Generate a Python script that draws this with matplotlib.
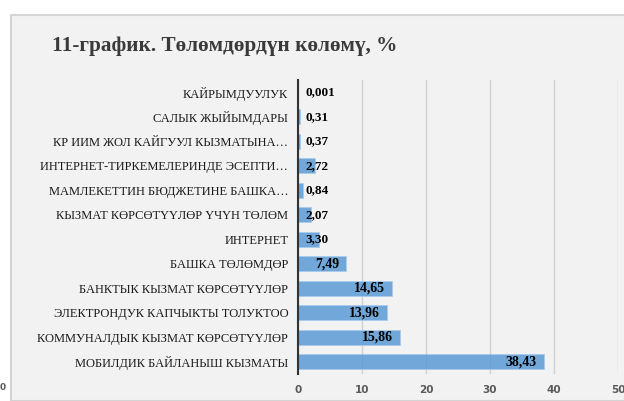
import matplotlib
matplotlib.use("Agg")
import matplotlib.pyplot as plt
from matplotlib.patches import Rectangle

categories = [
    "КАЙРЫМДУУЛУК",
    "САЛЫК ЖЫЙЫМДАРЫ",
    "КР ИИМ ЖОЛ КАЙГУУЛ КЫЗМАТЫНА…",
    "ИНТЕРНЕТ-ТИРКЕМЕЛЕРИНДЕ ЭСЕПТИ…",
    "МАМЛЕКЕТТИН БЮДЖЕТИНЕ БАШКА…",
    "КЫЗМАТ КӨРСӨТҮҮЛӨР ҮЧҮН ТӨЛӨМ",
    "ИНТЕРНЕТ",
    "БАШКА ТӨЛӨМДӨР",
    "БАНКТЫК КЫЗМАТ КӨРСӨТҮҮЛӨР",
    "ЭЛЕКТРОНДУК КАПЧЫКТЫ ТОЛУКТОО",
    "КОММУНАЛДЫК КЫЗМАТ КӨРСӨТҮҮЛӨР",
    "МОБИЛДИК БАЙЛАНЫШ КЫЗМАТЫ",
]
values = [0.001, 0.31, 0.37, 2.72, 0.84, 2.07, 3.30, 7.49, 14.65, 13.96, 15.86, 38.43]
value_labels = ["0,001", "0,31", "0,37", "2,72", "0,84", "2,07", "3,30", "7,49",
                "14,65", "13,96", "15,86", "38,43"]
xticks = [0, 10, 20, 30, 40, 50]

serif = "Liberation Serif"
W, H = 624, 401

fig = plt.figure(figsize=(6.24, 4.01), dpi=100, facecolor="white")

# grey chart panel with its border (chart sits inside a report page)
fig.patches.append(Rectangle((11 / W, 0), 1, 1 - 15 / H, transform=fig.transFigure,
                             facecolor="#F2F2F2", edgecolor="#D4D4D4", linewidth=1.5, zorder=-5))
# piece of the neighbouring chart's axis label at the far left
fig.text(0, 1 - 388 / H, "0", fontsize=6.5, color="#595959", fontweight="bold",
         ha="left", va="center")

ax = fig.add_axes([298 / W, 1 - 374 / H, 320 / W, 294 / H])
ax.set_facecolor("none")

y = list(range(len(categories)))[::-1]
# bars are a bit see-through, gridlines show faintly through them
ax.barh(y, values, height=0.62, color="#5B9BD5", alpha=0.85, edgecolor="#A8CBEB",
        linewidth=0.6, zorder=3)

for yi, v, lab in zip(y, values, value_labels):
    if v > 5:
        ax.text(v - 1.1, yi, lab, ha="right", va="center", fontsize=10,
                fontweight="bold", family=serif, color="black", zorder=4)
    else:
        ax.text(1.2, yi, lab, ha="left", va="center", fontsize=9.5,
                fontweight="bold", family=serif, color="black", zorder=4)

ax.set_xlim(0, 50)
ax.set_ylim(-0.5, len(categories) - 0.5)
ax.set_xticks(xticks)
ax.set_xticklabels([str(t) for t in xticks], fontsize=7.5, color="#595959", fontweight="bold")
ax.set_yticks(y)
ax.set_yticklabels(categories, family=serif, fontsize=9, color="#1a1a1a")
ax.tick_params(axis="both", length=0)
ax.tick_params(axis="y", pad=7)
ax.tick_params(axis="x", pad=8)

ax.grid(axis="x", color="#D0D0D0", linewidth=1, zorder=0)
for side in ["top", "right", "bottom"]:
    ax.spines[side].set_visible(False)
ax.spines["left"].set_color("#333333")
ax.spines["left"].set_linewidth(1.5)
ax.spines["left"].set_zorder(5)

fig.text(52 / W, 1 - 46 / H, "11-график. Төлөмдөрдүн көлөмү, %", family=serif,
         fontsize=15.3, fontweight="bold", color="#3a3a3a", ha="left", va="center")

fig.savefig("out.png", dpi=100, facecolor="white")
